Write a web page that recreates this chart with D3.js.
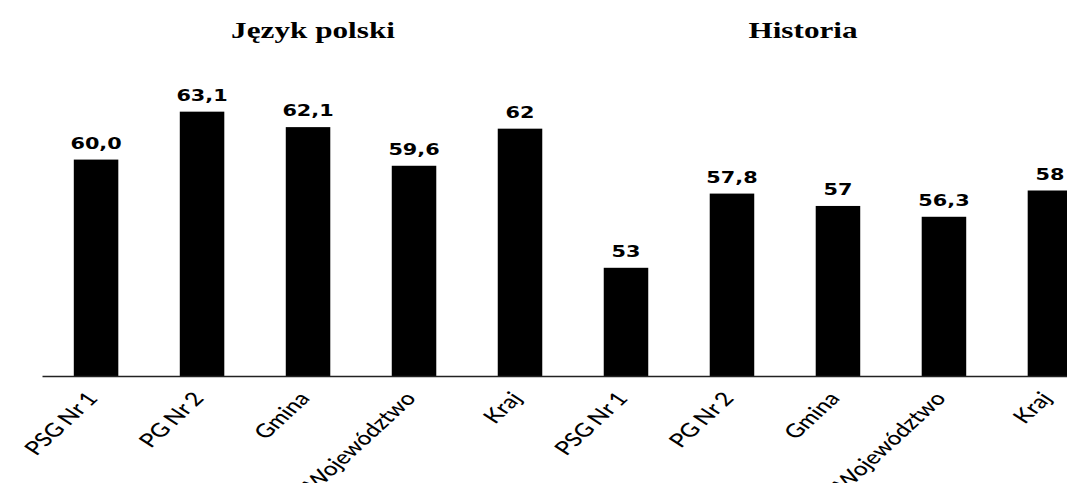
<!DOCTYPE html>
<html>
<head>
<meta charset="utf-8">
<script src="https://cdn.jsdelivr.net/npm/d3@7"></script>
<style>
  body { margin: 0; background: #fff; }
</style>
</head>
<body>
<svg id="chart"></svg>
<script>
const subjects = ["Język polski", "Historia"],
places = ["PSG Nr 1", "PG Nr 2", "Gmina", "Województwo", "Kraj"],
polskiValues = [60.0, 63.1, 62.1, 59.6, 62],
polskiLabels = ["60,0", "63,1", "62,1", "59,6", "62"],
historiaValues = [53, 57.8, 57, 56.3, 58],
historiaLabels = ["53", "57,8", "57", "56,3", "58"];

const w = 1067, h = 483,
baseY = 376,
stretch = 1.3; // the picture is wider than tall, text looks pulled sideways

// build rows from the arrays
const rows = []
places.forEach((p, i) => rows.push({ key: "pl" + i, place: p, value: polskiValues[i], label: polskiLabels[i] }))
places.forEach((p, i) => rows.push({ key: "hi" + i, place: p, value: historiaValues[i], label: historiaLabels[i] }))

const svg = d3.select("#chart")
  .attr("width", w)
  .attr("height", h)

svg.append("rect").attr("width", w).attr("height", h).attr("fill", "#fff")

const x = d3.scaleBand()
  .domain(rows.map(d => d.key))
  .range([42, 1104])
  .paddingInner(0.58)
  .paddingOuter(0.3)

// value axis does not start at zero
const y = d3.scaleLinear()
  .domain([46, 70])
  .range([baseY, 5])

// bars
svg.selectAll("rect.bar")
  .data(rows)
  .enter()
  .append("rect")
    .attr("class", "bar")
    .attr("x", d => x(d.key))
    .attr("y", d => y(d.value))
    .attr("width", x.bandwidth())
    .attr("height", d => baseY - y(d.value))
    .style("fill", "#000")

// value labels
svg.selectAll("text.val")
  .data(rows)
  .enter()
  .append("text")
    .attr("class", "val")
    .attr("transform", d => `translate(${x(d.key) + x.bandwidth() / 2},${y(d.value) - 11}) scale(${stretch},1)`)
    .attr("text-anchor", "middle")
    .style("font-family", "'DejaVu Sans', Verdana, sans-serif")
    .style("font-weight", "bold")
    .style("font-size", "16px")
    .style("fill", "#000")
    .text(d => d.label)

// category axis
const byKey = {}
rows.forEach(d => byKey[d.key] = d.place)

const axis = svg.append("g")
  .attr("transform", `translate(0,${baseY})`)
  .call(d3.axisBottom(x).tickSize(0).tickSizeOuter(0).tickFormat(k => byKey[k]))

axis.select(".domain")
  .attr("stroke", "#222")
  .attr("stroke-width", 1.3)

axis.selectAll(".tick text")
  .attr("x", null)
  .attr("y", null)
  .attr("dy", null)
  .attr("text-anchor", "end")
  .attr("transform", `translate(3,23) scale(${stretch},1) rotate(-50)`)
  .style("font-family", "Lato, 'Open Sans', sans-serif")
  .style("font-size", "19px")
  .style("font-weight", "500")
  .style("word-spacing", "-1px")
  .style("fill", "#000")

// subject titles
const titleX = [313, 803]
svg.selectAll("text.title")
  .data(subjects)
  .enter()
  .append("text")
    .attr("class", "title")
    .attr("transform", (d, i) => `translate(${titleX[i]},38) scale(${stretch},1)`)
    .attr("text-anchor", "middle")
    .style("font-family", "'Liberation Serif', 'Times New Roman', serif")
    .style("font-weight", "bold")
    .style("font-size", "24px")
    .style("fill", "#000")
    .text(d => d)
</script>
</body>
</html>
